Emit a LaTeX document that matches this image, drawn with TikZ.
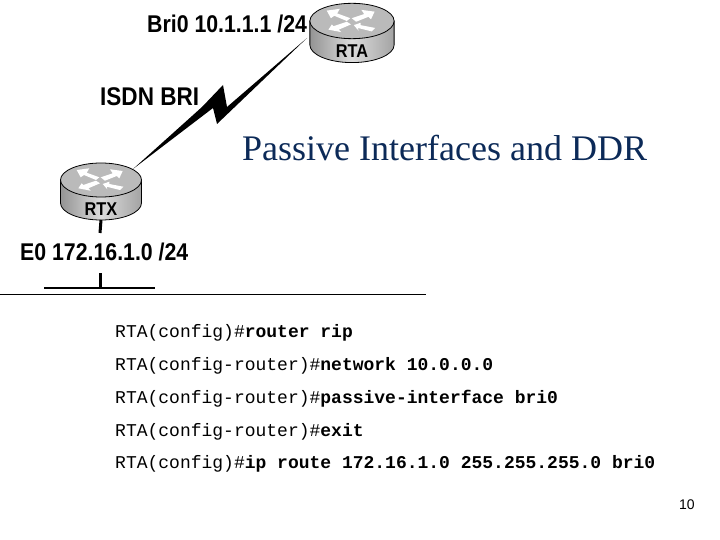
\documentclass[tikz,border=0pt]{standalone}
\usepackage{fontspec}
\setmainfont{Liberation Serif}
\setsansfont{Liberation Sans}
\setmonofont{Liberation Mono}
\newfontfamily\lblfont[FakeStretch=0.88]{Liberation Sans Bold}
\usepackage{tikz}
\usetikzlibrary{arrows.meta,calc}
\definecolor{titleblue}{RGB}{12,42,88}
\tikzset{
  lbl/.style={inner sep=0pt,anchor=base west,font=\lblfont\fontsize{24.2}{26}\selectfont},
  rname/.style={inner sep=0pt,font=\lblfont\fontsize{18.5}{20}\selectfont},
  cmd/.style={inner sep=0pt,anchor=base west,font=\ttfamily\fontsize{18}{20}\selectfont},
  wire/.style={line width=3pt,black},
  routerpic/.pic={
    \shade[left color=black!42,right color=black!36,middle color=black!14,draw=black,line width=0.8pt]
      (-40.5,0) -- (-40.5,23) arc[start angle=180,end angle=0,x radius=40.5,y radius=17] -- (40.5,0) -- cycle;
    \fill[black!27,draw=black,line width=0.8pt] (0,0) ellipse[x radius=40.5,y radius=17];
    \fill[white] (-24.3,-10) -- (-11.7,-11.7) -- (-14.3,-7.3) -- (-1.7,-2.7) -- (-5,0) -- (-17,-5) -- (-20.3,-2.7) -- cycle;
    \fill[white] (21.7,-9) -- (9,-10.7) -- (11.7,-6.7) -- (-.3,-2.7) -- (4,.7) -- (15.7,-4) -- (18.3,-1.7) -- cycle;
    \fill[white] (-22.7,8.3) -- (-19.3,3.3) -- (-17.7,5) -- (-5,.7) -- (-1,3.3) -- (-12.7,8.3) -- (-10.3,10.7) -- cycle;
    \fill[white] (1.7,4) -- (8.3,1.7) -- (8.3,4) -- (22.3,6.7) -- (19,10) -- (5.7,6.7) -- (6.3,9.3) -- cycle;
    \node[rname] (-name) at (0,29) {\tikzpictext};
    \coordinate (-base) at (0,40);
  },
}

\begin{document}
\begin{tikzpicture}[x=1pt,y=-1pt]
\useasboundingbox (0,0) rectangle (720,540);
\pic[pic text=RTA,scale=1.04] (rta) at (352,21) {routerpic};
\pic[pic text=RTX] (rtx) at (101,180) {routerpic};
\node[lbl] (brilbl) at (147,33) {Bri0 10.1.1.1 /24};
\node[lbl,font=\lblfont\fontsize{25.6}{28}\selectfont] (isdnlbl) at (100,106) {ISDN BRI};
\node[lbl] (e0lbl) at (20,260) {E0 172.16.1.0 /24};
\node[inner sep=0pt,anchor=base west,text=titleblue,font=\rmfamily\fontsize{36}{40}\selectfont] (title) at (242,161) {Passive Interfaces and DDR};
% isdn link
\coordinate (rtaport) at (307,38); \coordinate (rtxport) at (133,169);
\fill (rtxport) -- (202,107) -- (223,85) -- (227,107) -- (rtaport) -- (217,124) -- (213,108) -- cycle;
% ethernet
\coordinate (e0up) at (100,233); \coordinate (e0down) at (100,273);
\coordinate (barl) at (44,288); \coordinate (barm) at (100,288); \coordinate (barr) at (155,288);
\draw[wire] (rtx-base) -- (e0up); \draw[wire] (e0down) -- (barm); \draw[wire,line width=2pt] (barl) -- (barr);
% rule under the picture
\coordinate (rulel) at (0,294.5); \coordinate (ruler) at (426,294.5);
\draw[line width=1.3pt] (rulel) -- (ruler);
\node[cmd] (c1) at (115,337) {RTA(config)\#\textbf{router rip}};
\node[cmd] (c2) at (115,370) {RTA(config-router)\#\textbf{network 10.0.0.0}};
\node[cmd] (c3) at (115,403) {RTA(config-router)\#\textbf{passive-interface bri0}};
\node[cmd] (c4) at (115,436) {RTA(config-router)\#\textbf{exit}};
\node[cmd] (c5) at (115,468) {RTA(config)\#\textbf{ip route 172.16.1.0 255.255.255.0 bri0}};
\node[inner sep=0pt,anchor=base west,font=\sffamily\fontsize{14}{16}\selectfont] (pagenum) at (679,509) {10};
\end{tikzpicture}
\end{document}
